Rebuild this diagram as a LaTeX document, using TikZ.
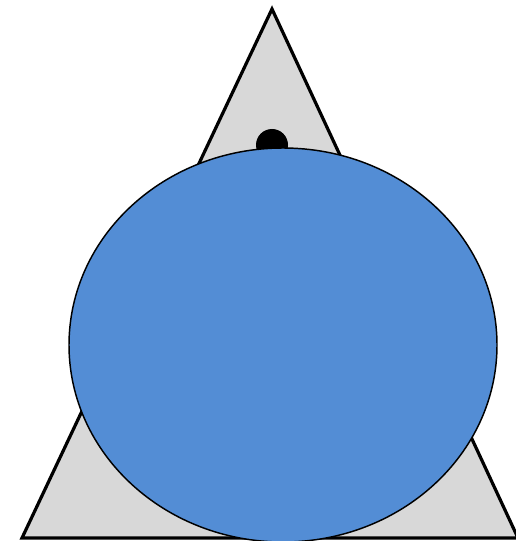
\documentclass[tikz,border=0pt]{standalone}
\definecolor{conegray}{RGB}{216,216,216}
\definecolor{blobblue}{RGB}{83,141,213}
\begin{document}
\begin{tikzpicture}[x=0.75pt,y=-0.75pt]
\useasboundingbox (0,0) rectangle (516,541);
\coordinate (top) at (272,9);
\coordinate (left) at (22,538);
\coordinate (right) at (518,538);
\filldraw[fill=conegray,line width=2.4pt,line join=miter] (top) -- (left) -- (right) -- cycle;
\fill (272,145) circle (16);
\filldraw[fill=blobblue,line width=1.1pt] (283,345) ellipse (214 and 197);
\end{tikzpicture}
\end{document}
